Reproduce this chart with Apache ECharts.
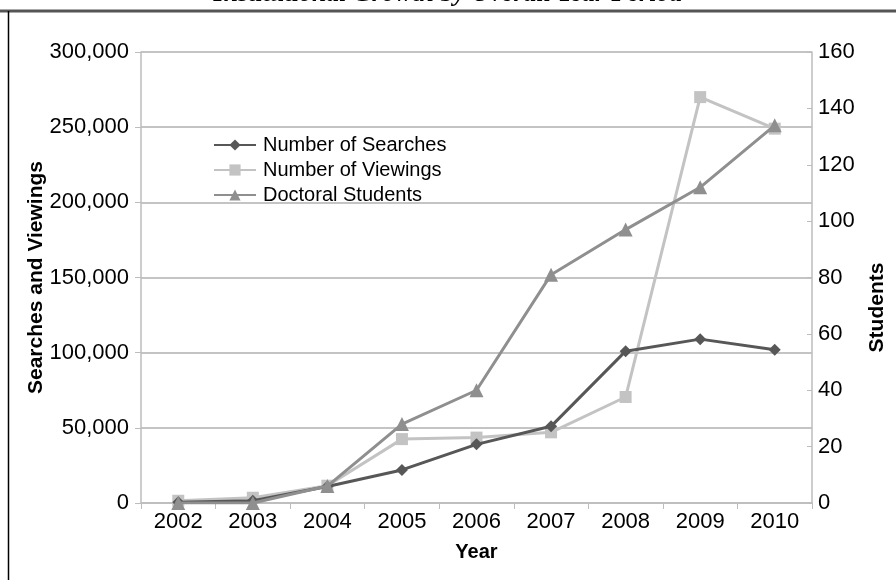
<!DOCTYPE html>
<html>
<head>
<meta charset="utf-8">
<script src="https://cdn.jsdelivr.net/npm/echarts@6/dist/echarts.min.js"></script>
<style>
  html, body { margin: 0; padding: 0; background: #ffffff; }
  #chart { width: 896px; height: 580px; }
</style>
</head>
<body>
<div id="chart"></div>
<script>
// Yearly activity: searches, viewings (left axis) and doctoral students (right axis)
const years = ['2002', '2003', '2004', '2005', '2006', '2007', '2008', '2009', '2010'];
const searches = [500, 1500, 11000, 22000, 39000, 51000, 101000, 109000, 102000];
const viewings = [1500, 3500, 11500, 42500, 43500, 47000, 70500, 270000, 249000];
const students = [0, 0, 6, 28, 40, 81, 97, 112, 134];

const leftTicks = { min: 0, max: 300000, interval: 50000 };
const rightTicks = { min: 0, max: 160, interval: 20 };

const FONT = 'Liberation Sans, Arial, sans-serif';
const AXIS_GREY = '#bdbdbd';
const GRID_GREY = '#b0b0b0';

const chart = echarts.init(document.getElementById('chart'), null, { renderer: 'canvas' });

function fmt(v) {
  return String(v).replace(/\B(?=(\d{3})+(?!\d))/g, ',');
}

chart.setOption({
  backgroundColor: '#ffffff',
  animation: false,
  grid: { left: 141, right: 83, top: 52, bottom: 77, containLabel: false },
  graphic: [
    {
      type: 'text', left: 'center', top: -19, z: 1,
      style: {
        text: 'Institutional Growth by Overall Year Period',
        font: 'italic bold 26px "Liberation Serif", "Times New Roman", serif',
        fill: '#000000'
      }
    },
    {
      type: 'line', z: 10,
      shape: { x1: 0, y1: 11, x2: 896, y2: 11 },
      style: { stroke: '#555555', lineWidth: 3 }
    },
    {
      type: 'line', z: 10,
      shape: { x1: 8.5, y1: 11, x2: 8.5, y2: 580 },
      style: { stroke: '#000000', lineWidth: 1.5 }
    }
  ],
  legend: {
    orient: 'vertical',
    left: 208,
    top: 130,
    itemWidth: 42,
    itemHeight: 14,
    itemGap: 5,
    textStyle: { fontFamily: FONT, fontSize: 20, color: '#000000', padding: [0, 0, 0, 2] },
    data: ['Number of Searches', 'Number of Viewings', 'Doctoral Students']
  },
  xAxis: {
    type: 'category',
    data: years,
    boundaryGap: true,
    name: 'Year',
    nameLocation: 'middle',
    nameGap: 39,
    nameMoveOverlap: false,
    nameTextStyle: { fontFamily: FONT, fontSize: 20, fontWeight: 'bold', color: '#000000' },
    axisLine: { lineStyle: { color: AXIS_GREY, width: 1.5 } },
    axisTick: { show: true, alignWithLabel: false, inside: false, length: 6, lineStyle: { color: AXIS_GREY } },
    axisLabel: { fontFamily: FONT, fontSize: 22, color: '#000000', margin: 8, interval: 0 },
    splitLine: { show: false }
  },
  yAxis: [
    {
      type: 'value',
      position: 'left',
      min: leftTicks.min,
      max: leftTicks.max,
      interval: leftTicks.interval,
      name: 'Searches and Viewings',
      nameLocation: 'middle',
      nameGap: 94,
      nameRotate: 90,
      nameMoveOverlap: false,
      nameTextStyle: { fontFamily: FONT, fontSize: 21, fontWeight: 'bold', color: '#000000' },
      axisLine: { show: true, lineStyle: { color: AXIS_GREY, width: 1.5 } },
      axisTick: { show: true, length: 6, lineStyle: { color: AXIS_GREY } },
      axisLabel: { fontFamily: FONT, fontSize: 22, color: '#000000', margin: 12, formatter: fmt },
      splitLine: { show: true, lineStyle: { color: GRID_GREY, width: 1.5 } }
    },
    {
      type: 'value',
      position: 'right',
      min: rightTicks.min,
      max: rightTicks.max,
      interval: rightTicks.interval,
      name: 'Students',
      nameLocation: 'middle',
      nameGap: 55,
      nameRotate: 90,
      nameTextStyle: { fontFamily: FONT, fontSize: 21, fontWeight: 'bold', color: '#000000', padding: [0, 60, 0, 0] },
      axisLine: { show: true, lineStyle: { color: AXIS_GREY, width: 1.5 } },
      axisTick: { show: true, inside: true, length: 5, lineStyle: { color: AXIS_GREY } },
      axisLabel: { fontFamily: FONT, fontSize: 22, color: '#000000', margin: 6 },
      splitLine: { show: false }
    }
  ],
  series: [
    {
      name: 'Number of Searches',
      type: 'line',
      yAxisIndex: 0,
      data: searches,
      symbol: 'diamond',
      symbolSize: 12,
      showAllSymbol: true,
      z: 3,
      itemStyle: { color: '#575757' },
      lineStyle: { color: '#575757', width: 3 }
    },
    {
      name: 'Number of Viewings',
      type: 'line',
      yAxisIndex: 0,
      data: viewings,
      symbol: 'rect',
      symbolSize: 12,
      showAllSymbol: true,
      z: 2,
      itemStyle: { color: '#c3c3c3' },
      lineStyle: { color: '#c3c3c3', width: 3 }
    },
    {
      name: 'Doctoral Students',
      type: 'line',
      yAxisIndex: 1,
      data: students,
      symbol: 'triangle',
      symbolSize: 14,
      showAllSymbol: true,
      z: 4,
      itemStyle: { color: '#8f8f8f' },
      lineStyle: { color: '#8f8f8f', width: 3 }
    }
  ]
});
</script>
</body>
</html>
